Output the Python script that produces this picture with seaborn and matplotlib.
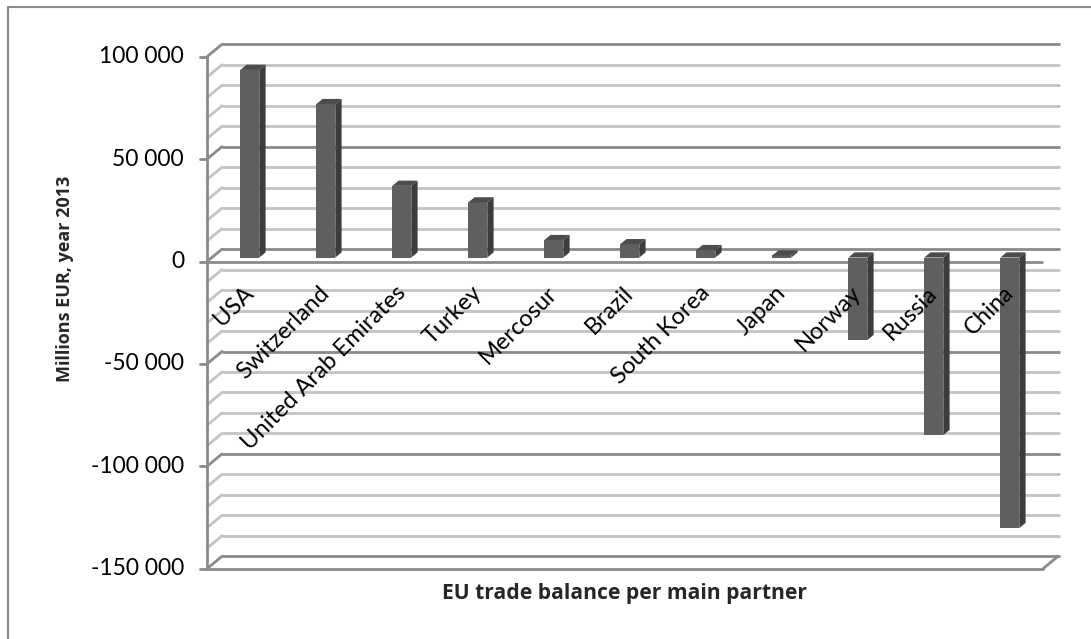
import matplotlib
matplotlib.use("Agg")
import matplotlib.pyplot as plt
import matplotlib.lines as mlines
from matplotlib.patches import Polygon
import seaborn as sns
import pandas as pd

# EU trade balance with main partners, millions EUR, 2013
partners = ["USA", "Switzerland", "United Arab Emirates", "Turkey", "Mercosur",
            "Brazil", "South Korea", "Japan", "Norway", "Russia", "China"]
balance = [91600, 74900, 35000, 26900, 8500, 6500, 3600, 1000, -40300, -86700, -132100]

y_ticks = [100000, 50000, 0, -50000, -100000, -150000]
y_tick_labels = ["100 000", "50 000", "0", "-50 000", "-100 000", "-150 000"]
y_label = "Millions EUR, year 2013"
x_label = "EU trade balance per main partner"

sns.set_theme(style="white")
plt.rcParams["font.family"] = ["Lato", "DejaVu Sans"]
title_font = ["Open Sans", "DejaVu Sans"]

W, H = 1091, 639
fig = plt.figure(figsize=(W / 100, H / 100), dpi=100)
ax = fig.add_axes([0, 0, 1, 1])

# pixel geometry of the pseudo-3D frame
PX_PER_CAT = 76.0
PX_PER_UNIT = 0.002048
X0_PX = 245.0      # centre of first category on the front plane
Y0_PX = 261.5      # zero line on the front plane
DEPTH = (15.0, 12.4)   # back wall offset: right, up (pixels)
ymin, ymax = -150000, 100000
n = len(partners)


def set_frame():
    ax.set_xlim(-X0_PX / PX_PER_CAT, (W - X0_PX) / PX_PER_CAT)
    ax.set_ylim(-(H - Y0_PX) / PX_PER_UNIT, Y0_PX / PX_PER_UNIT)
    ax.axis("off")


def dx(px):
    return px / PX_PER_CAT


def dy(px):
    return px / PX_PER_UNIT


set_frame()
x_left, x_right = -0.5, n - 0.5
bx, by = dx(DEPTH[0]), dy(DEPTH[1])

minor_c, major_c = "#c3c3c3", "#8a8a8a"

# back wall and side wall gridlines
for v in range(ymin, ymax + 1, 10000):
    major = v % 50000 == 0
    c = major_c if major else minor_c
    z = 1 if major else 0.5
    ax.plot([x_left + bx, x_right + bx + dx(2)], [v + by, v + by], color=c, lw=2, zorder=z,
            solid_capstyle="butt")
    ax.plot([x_left, x_left + bx], [v, v + by], color=c, lw=2, zorder=z)

# floor
ax.plot([x_left, x_right], [ymin, ymin], color=major_c, lw=2, zorder=1)
ax.plot([x_right, x_right + bx], [ymin, ymin + by], color=major_c, lw=2, zorder=1)

# front value axis with ticks, and category axis at zero
ax.plot([x_left, x_left], [ymin, ymax], color=major_c, lw=2, zorder=2)
ax.plot([x_left, x_right], [0, 0], color=major_c, lw=2, zorder=2, solid_capstyle="butt")
for v, lab in zip(y_ticks, y_tick_labels):
    ax.plot([x_left - dx(7), x_left], [v, v], color=major_c, lw=2, zorder=2)
    ax.text(x_left - dx(23), v, lab, ha="right", va="center", fontsize=16.5, color="black")

# bars: front faces via seaborn, then shifted into depth with side/top faces
df = pd.DataFrame({"partner": partners, "balance": balance})
front_c, side_c, top_c = "#5f5f5f", "#3c3c3c", "#4c4c4c"
sns.barplot(data=df, x="partner", y="balance", color=front_c, saturation=1,
            width=0.25, ax=ax, zorder=5, linewidth=0)
set_frame()

f_front, f_back = 0.32, 0.74
ox, oy = bx * f_front, by * f_front
sx, sy = bx * (f_back - f_front), by * (f_back - f_front)
for p in list(ax.patches):
    x, y, w, h = p.get_x(), p.get_y(), p.get_width(), p.get_height()
    x, y = x + ox, y + oy
    p.set_x(x)
    p.set_y(y)
    ylo, yhi = min(y, y + h), max(y, y + h)
    side = Polygon([(x + w, ylo), (x + w + sx, ylo + sy), (x + w + sx, yhi + sy), (x + w, yhi)],
                   closed=True, facecolor=side_c, edgecolor="none", zorder=5)
    top = Polygon([(x, yhi), (x + sx, yhi + sy), (x + w + sx, yhi + sy), (x + w, yhi)],
                  closed=True, facecolor=top_c, edgecolor="none", zorder=5)
    ax.add_patch(side)
    ax.add_patch(top)

# rotated category labels
for i, name in enumerate(partners):
    ax.text(i + dx(5), -dy(28), name, rotation=45, rotation_mode="anchor",
            ha="right", va="center", fontsize=17, color="black", zorder=6)

# axis titles
fig.text(65 / W, 1 - 279 / H, y_label, rotation=90, ha="center", va="center",
         fontsize=13, fontweight="bold", family=title_font)
fig.text(625 / W, 1 - 593 / H, x_label, ha="center", va="center",
         fontsize=15.2, fontweight="bold", family=title_font)

# chart area border
fig.add_artist(mlines.Line2D([8 / W, 8 / W], [0, 1 - 7 / H], color="#8a8a8a", lw=1.5,
                             transform=fig.transFigure))
fig.add_artist(mlines.Line2D([8 / W, 1], [1 - 7 / H, 1 - 7 / H], color="#8a8a8a", lw=1.5,
                             transform=fig.transFigure))

fig.savefig("out.png", dpi=100, facecolor="white")
